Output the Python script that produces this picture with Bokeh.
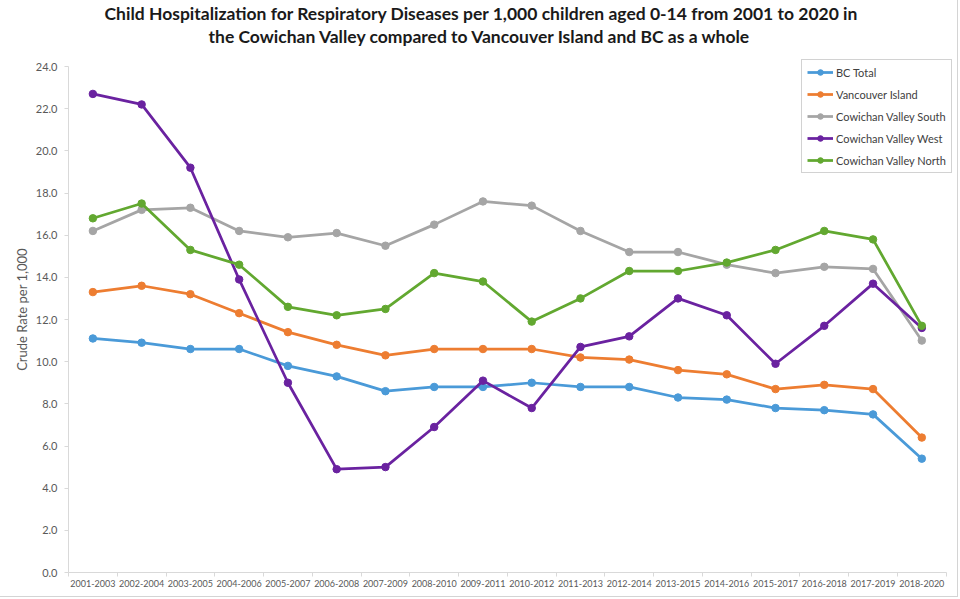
from bokeh.plotting import figure
from bokeh.models import Title, FixedTicker, NumeralTickFormatter, Range1d
from bokeh.embed import file_html
from bokeh.resources import INLINE

periods = ["2001-2003", "2002-2004", "2003-2005", "2004-2006", "2005-2007", "2006-2008",
           "2007-2009", "2008-2010", "2009-2011", "2010-2012", "2011-2013", "2012-2014",
           "2013-2015", "2014-2016", "2015-2017", "2016-2018", "2017-2019", "2018-2020"]
bc_total = [11.1, 10.9, 10.6, 10.6, 9.8, 9.3, 8.6, 8.8, 8.8, 9.0, 8.8, 8.8, 8.3, 8.2, 7.8, 7.7, 7.5, 5.4]
vancouver_island = [13.3, 13.6, 13.2, 12.3, 11.4, 10.8, 10.3, 10.6, 10.6, 10.6, 10.2, 10.1, 9.6, 9.4, 8.7, 8.9, 8.7, 6.4]
cv_south = [16.2, 17.2, 17.3, 16.2, 15.9, 16.1, 15.5, 16.5, 17.6, 17.4, 16.2, 15.2, 15.2, 14.6, 14.2, 14.5, 14.4, 11.0]
cv_west = [22.7, 22.2, 19.2, 13.9, 9.0, 4.9, 5.0, 6.9, 9.1, 7.8, 10.7, 11.2, 13.0, 12.2, 9.9, 11.7, 13.7, 11.6]
cv_north = [16.8, 17.5, 15.3, 14.6, 12.6, 12.2, 12.5, 14.2, 13.8, 11.9, 13.0, 14.3, 14.3, 14.7, 15.3, 16.2, 15.8, 11.7]
series_names = ["BC Total", "Vancouver Island", "Cowichan Valley South", "Cowichan Valley West", "Cowichan Valley North"]
series_colors = ["#4a9ad8", "#ed7d31", "#a5a5a5", "#6a22a0", "#62a830"]
y_ticks = [0, 2, 4, 6, 8, 10, 12, 14, 16, 18, 20, 22, 24]
title_lines = ["Child Hospitalization for Respiratory Diseases per 1,000 children aged 0-14 from 2001 to 2020 in",
               "the Cowichan Valley compared to Vancouver Island and BC as a whole"]
y_label = "Crude Rate per 1,000"

FONT = "Lato"
x = list(range(len(periods)))

# layout: frame spans x 68..952, y 46..572; 24.0 sits at y 66 (21.08 px per unit)
PITCH = 48.76
x_end = -0.5 + 884 / PITCH
y_end = y_ticks[-1] + 20 / (506 / y_ticks[-1])

p = figure(width=958, height=597, output_backend="svg", toolbar_location=None,
           x_range=Range1d(-0.5, x_end), y_range=Range1d(y_ticks[0], y_end),
           min_border_left=68, min_border_right=6, min_border_top=46, min_border_bottom=25)
p.styles = {"border-right": "1px solid #d4d4d4", "border-bottom": "1px solid #d4d4d4"}

p.title.text = title_lines[0]
p.title.align = "left"
p.title.offset = 36
p.title.text_font = FONT
p.title.text_font_size = "17.5px"
p.title.text_color = "#1a1a1a"
p.title.text_line_height = 1.0
p.title.standoff = 0
p.add_layout(Title(text=title_lines[1], align="left", offset=140, text_font=FONT,
                   text_font_size="17.5px", text_color="#1a1a1a", text_line_height=1.0,
                   standoff=0), "above")

p.xgrid.visible = False
p.ygrid.visible = False
p.outline_line_color = None

# x axis
p.xaxis.bounds = (-0.5, len(periods) - 0.5)
p.xaxis.ticker = FixedTicker(ticks=x, minor_ticks=[i - 0.5 for i in range(len(periods) + 1)])
p.xaxis.major_label_overrides = {i: lab for i, lab in enumerate(periods)}
p.xaxis.major_tick_line_color = None
p.xaxis.major_tick_out = 0
p.xaxis.major_tick_in = 0
p.xaxis.minor_tick_line_color = "#d9d9d9"
p.xaxis.minor_tick_out = 4
p.xaxis.minor_tick_in = 0
p.xaxis.axis_line_color = "#d9d9d9"
p.xaxis.major_label_standoff = 3
p.xaxis.major_label_text_font = FONT
p.xaxis.major_label_text_font_size = "9px"
p.xaxis.major_label_text_color = "#595959"

# y axis
p.yaxis.bounds = (y_ticks[0], y_ticks[-1])
p.yaxis.ticker = FixedTicker(ticks=y_ticks)
p.yaxis.formatter = NumeralTickFormatter(format="0.0")
p.yaxis.axis_line_color = "#d9d9d9"
p.yaxis.major_tick_line_color = "#d9d9d9"
p.yaxis.major_tick_out = 4
p.yaxis.major_tick_in = 0
p.yaxis.minor_tick_line_color = None
p.yaxis.major_label_standoff = 7
p.yaxis.major_label_text_font = FONT
p.yaxis.major_label_text_font_size = "11px"
p.yaxis.major_label_text_color = "#595959"
p.yaxis.axis_label = y_label
p.yaxis.axis_label_text_font = FONT
p.yaxis.axis_label_text_font_style = "normal"
p.yaxis.axis_label_text_font_size = "13px"
p.yaxis.axis_label_text_color = "#595959"
p.yaxis.axis_label_standoff = 3

all_series = [bc_total, vancouver_island, cv_south, cv_west, cv_north]
for name, vals, col in zip(series_names, all_series, series_colors):
    p.line(x, vals, line_color=col, line_width=2.75, legend_label=name)
    p.scatter(x, vals, marker="circle", size=7.5, fill_color=col, line_color=col, legend_label=name)

lg = p.legend[0]
lg.location = (733, 399)
lg.label_text_font = FONT
lg.label_text_font_size = "11px"
lg.label_text_color = "#404040"
lg.border_line_color = "#a6a6a6"
lg.border_line_width = 1
lg.background_fill_color = "white"
lg.background_fill_alpha = 1
lg.glyph_width = 26
lg.glyph_height = 14
lg.label_height = 14
lg.label_standoff = 3
lg.spacing = 8
lg.padding = 5
lg.margin = 0

open("out.html", "w").write(file_html(p, INLINE))
